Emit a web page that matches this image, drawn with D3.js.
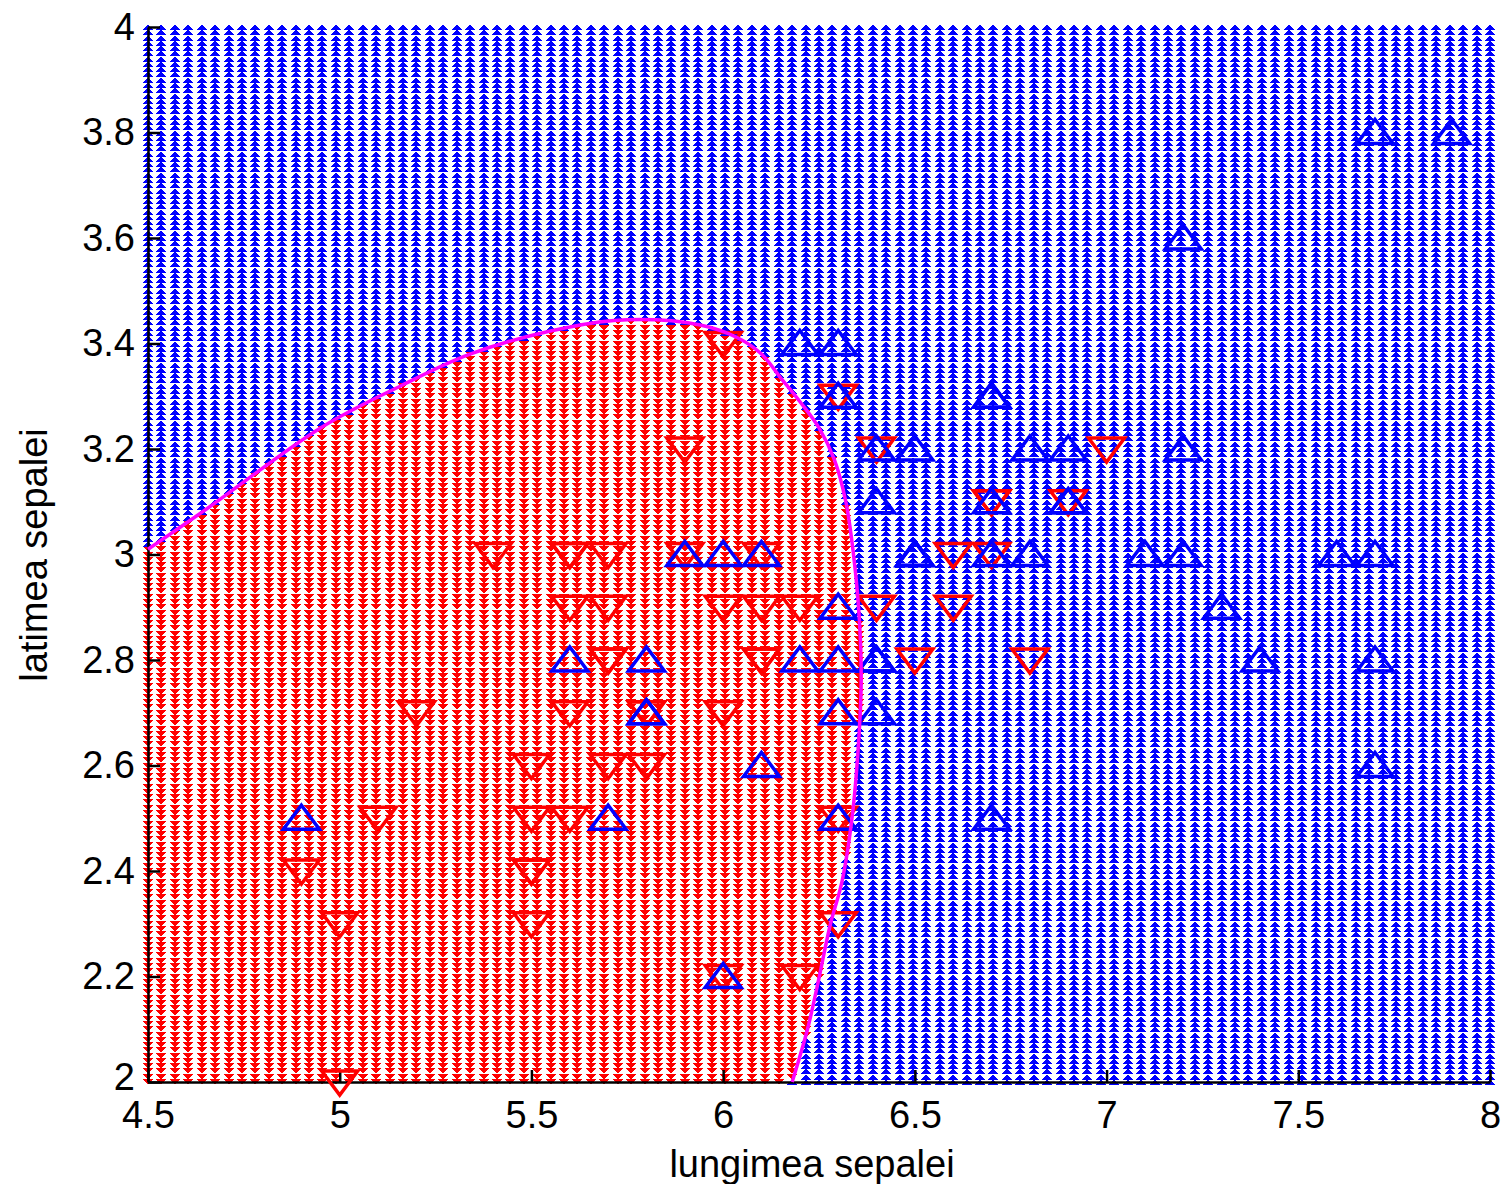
<!DOCTYPE html>
<html>
<head>
<meta charset="utf-8">
<script src="https://cdn.jsdelivr.net/npm/d3@7/dist/d3.min.js"></script>
<style>
  body { margin: 0; background: #fff; }
  svg { display: block; }
  text { font-family: "Liberation Sans", Arial, sans-serif; fill: #000; }
</style>
</head>
<body>
<svg id="chart" width="1503" height="1184"></svg>
<script>
// Iris versicolor: sepal length / sepal width
const versicolorLength = [7.0,6.4,6.9,5.5,6.5,5.7,6.3,4.9,6.6,5.2,5.0,5.9,6.0,6.1,5.6,6.7,5.6,5.8,6.2,5.6,5.9,6.1,6.3,6.1,6.4,6.6,6.8,6.7,6.0,5.7,5.5,5.5,5.8,6.0,5.4,6.0,6.7,6.3,5.6,5.5,5.5,6.1,5.8,5.0,5.6,5.7,5.7,6.2,5.1,5.7];
const versicolorWidth  = [3.2,3.2,3.1,2.3,2.8,2.8,3.3,2.4,2.9,2.7,2.0,3.0,2.2,2.9,2.9,3.1,3.0,2.7,2.2,2.5,3.2,2.8,2.5,2.8,2.9,3.0,2.8,3.0,2.9,2.6,2.4,2.4,2.7,2.7,3.0,3.4,3.1,2.3,3.0,2.5,2.6,3.0,2.6,2.3,2.7,3.0,2.9,2.9,2.5,2.8];

// Iris virginica: sepal length / sepal width
const virginicaLength = [6.3,5.8,7.1,6.3,6.5,7.6,4.9,7.3,6.7,7.2,6.5,6.4,6.8,5.7,5.8,6.4,6.5,7.7,7.7,6.0,6.9,5.6,7.7,6.3,6.7,7.2,6.2,6.1,6.4,7.2,7.4,7.9,6.4,6.3,6.1,7.7,6.3,6.4,6.0,6.9,6.7,6.9,5.8,6.8,6.7,6.7,6.3,6.5,6.2,5.9];
const virginicaWidth  = [3.3,2.7,3.0,2.9,3.0,3.0,2.5,2.9,2.5,3.6,3.2,2.7,3.0,2.5,2.8,3.2,3.0,3.8,2.6,2.2,3.2,2.8,2.8,2.7,3.3,3.2,2.8,3.0,2.8,3.0,2.8,3.8,2.8,2.8,2.6,3.0,3.4,3.1,3.0,3.1,3.1,3.1,2.7,3.2,3.3,3.0,2.5,3.0,3.4,3.0];

// Decision boundary between the two classes
const boundaryLength = [4.50,4.66,4.95,5.16,5.34,5.59,5.75,5.94,6.04,6.10,6.15,6.20,6.25,6.29,6.32,6.34,6.355,6.36,6.352,6.336,6.31,6.28,6.245,6.22,6.18];
const boundaryWidth  = [3.01,3.09,3.24,3.32,3.38,3.43,3.445,3.435,3.41,3.38,3.335,3.29,3.24,3.18,3.10,3.00,2.88,2.76,2.63,2.50,2.38,2.30,2.18,2.10,2.00];

// Evaluation grid of the classifier
const gridLength = d3.range(101).map(i => +(4.5 + i * 0.035).toFixed(4));
const gridWidth  = d3.range(201).map(i => +(2 + i * 0.01).toFixed(4));

const xTicks = [4.5, 5, 5.5, 6, 6.5, 7, 7.5, 8];
const xTickLabels = ["4.5", "5", "5.5", "6", "6.5", "7", "7.5", "8"];
const yTicks = [2, 2.2, 2.4, 2.6, 2.8, 3, 3.2, 3.4, 3.6, 3.8, 4];
const yTickLabels = ["2", "2.2", "2.4", "2.6", "2.8", "3", "3.2", "3.4", "3.6", "3.8", "4"];

const xLabel = "lungimea sepalei";
const yLabel = "latimea sepalei";

const RED = "#ff0000", BLUE = "#0000ff", MAGENTA = "#ff00ff";

const svg = d3.select("#chart");
const x = d3.scaleLinear().domain([4.5, 8]).range([148, 1490]);
const y = d3.scaleLinear().domain([2, 4]).range([1082, 27]);

// region inside the boundary (lower-left corner closes it)
const region = boundaryLength.map((v, i) => [v, boundaryWidth[i]]).concat([[4.5, 2.0]]);

// small triangles marking the class of every grid node
let redPath = "", bluePath = "";
const hw = 3.5, hh = 2;
gridWidth.forEach(wv => {
  gridLength.forEach(lv => {
    const px = Math.round(x(lv)), py = Math.round(y(wv));
    if (d3.polygonContains(region, [lv, wv])) {
      redPath += `M${px - hw},${py - hh}L${px + hw},${py - hh}L${px},${py + hh}Z`;
    } else {
      bluePath += `M${px - hw},${py + hh}L${px + hw},${py + hh}L${px},${py - hh}Z`;
    }
  });
});
const bg = svg.append("g").attr("shape-rendering", "crispEdges");
bg.append("path").attr("d", redPath).attr("fill", RED).attr("stroke", RED).attr("stroke-width", 1.2);
bg.append("path").attr("d", bluePath).attr("fill", BLUE).attr("stroke", BLUE).attr("stroke-width", 1.2);

// axes
const xAxis = d3.axisBottom(x).tickValues(xTicks).tickFormat((d, i) => xTickLabels[i])
  .tickSizeInner(-12).tickSizeOuter(0).tickPadding(19);
const yAxis = d3.axisLeft(y).tickValues(yTicks).tickFormat((d, i) => yTickLabels[i])
  .tickSizeInner(-12).tickSizeOuter(0).tickPadding(13);

const gx = svg.append("g").attr("transform", "translate(0,1082)").call(xAxis);
const gy = svg.append("g").attr("transform", "translate(148,0)").call(yAxis);
[gx, gy].forEach(g => {
  g.select(".domain").attr("stroke", "#000").attr("stroke-width", 2.5);
  g.selectAll(".tick line").attr("stroke", "#000").attr("stroke-width", 2.5);
  g.selectAll(".tick text").attr("font-size", 38).attr("font-family", "Liberation Sans, Arial, sans-serif").attr("fill", "#000");
});
// lowest y label sits a touch higher so it clears the first x label
gy.selectAll(".tick text").filter(d => d === yTicks[0]).attr("dy", "0.2em");

// hollow triangle markers for the samples
const triUp = {
  draw(ctx) { ctx.moveTo(-18, 11); ctx.lineTo(18, 11); ctx.lineTo(0, -13); ctx.closePath(); }
};
const triDown = {
  draw(ctx) { ctx.moveTo(-18, -11); ctx.lineTo(18, -11); ctx.lineTo(0, 13); ctx.closePath(); }
};

const versicolor = versicolorLength.map((v, i) => [v, versicolorWidth[i]]);
const virginica = virginicaLength.map((v, i) => [v, virginicaWidth[i]]);

svg.append("g").selectAll("path").data(versicolor).join("path")
  .attr("transform", d => `translate(${x(d[0])},${y(d[1])})`)
  .attr("d", d3.symbol(triDown)())
  .attr("fill", "none").attr("stroke", RED).attr("stroke-width", 3.5);

svg.append("g").selectAll("path").data(virginica).join("path")
  .attr("transform", d => `translate(${x(d[0])},${y(d[1])})`)
  .attr("d", d3.symbol(triUp)())
  .attr("fill", "none").attr("stroke", BLUE).attr("stroke-width", 3.5);

// decision boundary curve
const line = d3.line().x(d => x(d[0])).y(d => y(d[1])).curve(d3.curveCatmullRom);
svg.append("path")
  .datum(boundaryLength.map((v, i) => [v, boundaryWidth[i]]))
  .attr("d", line)
  .attr("fill", "none").attr("stroke", MAGENTA).attr("stroke-width", 3.5);

// axis titles
svg.append("text").attr("x", 812).attr("y", 1177).attr("text-anchor", "middle")
  .attr("font-size", 38).text(xLabel);
svg.append("text").attr("transform", "translate(47,555) rotate(-90)").attr("text-anchor", "middle")
  .attr("font-size", 38).text(yLabel);
</script>
</body>
</html>
